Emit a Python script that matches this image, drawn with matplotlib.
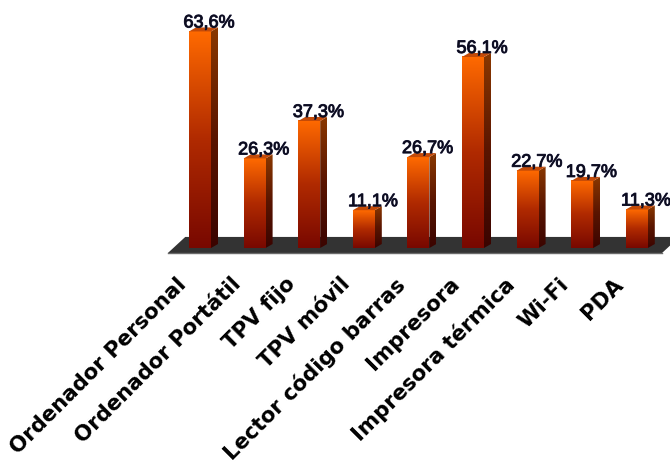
import numpy as np
import matplotlib
matplotlib.use("Agg")
import matplotlib.pyplot as plt
from matplotlib.patches import Polygon
from matplotlib.colors import LinearSegmentedColormap
import matplotlib.patheffects as pe

# Equipment adoption (% of respondents)
categories = ["Ordenador Personal", "Ordenador Portátil", "TPV fijo", "TPV móvil",
              "Lector código barras", "Impresora", "Impresora térmica", "Wi-Fi", "PDA"]
values = [63.6, 26.3, 37.3, 11.1, 26.7, 56.1, 22.7, 19.7, 11.3]
value_labels = [f"{v:.1f}%".replace(".", ",") for v in values]

W, H = 670, 466
fig = plt.figure(figsize=(W / 100, H / 100), dpi=100)
ax = fig.add_axes([0, 0, 1, 1])
ax.axis("off")

# pixel geometry of the drawing area
slot = 54.6      # px between bar centres
ppu = 3.405      # px per percentage point
x0_px = 200.0    # first bar centre
base_px = 248.0  # baseline, measured from the top
xlim = (-x0_px / slot, (W - x0_px) / slot)
ylim = ((base_px - H) / ppu, base_px / ppu)

bw = 22 / slot           # front face width
ddx = 7 / slot           # depth offset (x)
ddy = 4 / ppu            # depth offset (y)

front_cmap = LinearSegmentedColormap.from_list("front", ["#780800", "#b02a00", "#ff6a00"])
side_cmap = LinearSegmentedColormap.from_list("side", ["#3a0400", "#5a1500", "#8a3800"])
grad = np.linspace(1, 0, 256)[:, None]

# floor slab
n = len(values)
floor = Polygon([(-0.59, -1.5), (n - 1 + 0.46, -1.5), (n - 1 + 0.78, 3.25), (-0.27, 3.25)],
                closed=True, facecolor="#333333", edgecolor="none", zorder=1)
ax.add_patch(floor)
ax.plot([-0.59, n - 1 + 0.46], [-1.5, -1.5], color="#6a6a6a", lw=1.0, zorder=1.1)

x = np.arange(n)
bars = ax.bar(x, values, width=bw, color="none", edgecolor="none", zorder=3)

for rect, lab in zip(bars, value_labels):
    bx, bwid, h = rect.get_x(), rect.get_width(), rect.get_height()
    # front face gradient
    ax.imshow(grad, cmap=front_cmap, vmin=0, vmax=1, aspect="auto",
              extent=[bx, bx + bwid, 0, h], origin="upper", zorder=3,
              interpolation="bilinear")
    # side face
    side = Polygon([(bx + bwid, 0), (bx + bwid + ddx, ddy), (bx + bwid + ddx, h + ddy),
                    (bx + bwid, h)], closed=True, facecolor="none", edgecolor="none")
    ax.add_patch(side)
    ims = ax.imshow(grad, cmap=side_cmap, vmin=0, vmax=1, aspect="auto",
                    extent=[bx + bwid, bx + bwid + ddx, 0, h + ddy], origin="upper",
                    zorder=3, interpolation="bilinear")
    ims.set_clip_path(side)
    # top face
    top = Polygon([(bx, h), (bx + bwid, h), (bx + bwid + ddx, h + ddy), (bx + ddx, h + ddy)],
                  closed=True, facecolor="#c44a08", edgecolor="none", zorder=3.5)
    ax.add_patch(top)
    # value label
    ax.text(bx + bwid / 2 + 9 / slot, h + 4 / ppu, lab, ha="center", va="baseline",
            fontsize=13, family="Liberation Sans", color="#0c0c1c", zorder=5,
            path_effects=[pe.withStroke(linewidth=0.7, foreground="#1a1a3a")])

for xi, name in zip(x, categories):
    ax.text(xi - 24 / slot, -26 / ppu, name, rotation=45, rotation_mode="anchor",
            ha="right", va="top", fontsize=15.3, fontweight="bold",
            family="DejaVu Sans", color="#000000")

ax.set_xlim(*xlim)
ax.set_ylim(*ylim)
fig.savefig("out.png", dpi=100)
